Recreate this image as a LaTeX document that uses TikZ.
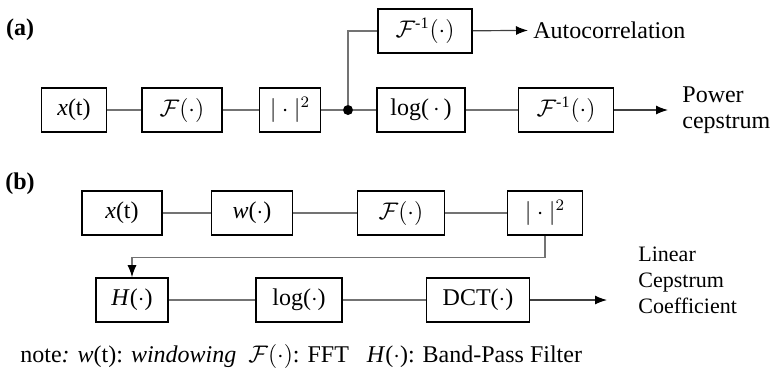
\documentclass[tikz,border=0pt]{standalone}
\usepackage{amsmath}
\usepackage{fontspec}
\setmainfont{Liberation Serif}
\usetikzlibrary{arrows.meta}

\begin{document}
\begin{tikzpicture}[x=0.5pt,y=-0.5pt]
     \tikzstyle{block}=[draw,line width=0.8pt,minimum height=22pt,inner sep=1pt,font=\fontsize{12}{14}\selectfont]
     \tikzstyle{txt}=[inner sep=0pt,font=\fontsize{12}{13}\selectfont,align=left]
     \tikzstyle{wire}=[draw,black!55,line width=0.6pt]
     \tikzstyle{arrow}=[draw,black!75,line width=0.6pt,-{Latex[length=6pt,width=4.5pt,color=black]}]
     \useasboundingbox (0,0) rectangle (771,382);

     % (a) power cepstrum
     \node[txt,font=\fontsize{12}{14}\selectfont\bfseries] (parta) at (20,30) {(a)};
     \node[block,minimum width=32.5pt] (xa) at (74,110) {\textit{x}(t)};
     \node[block,minimum width=40pt] (Fa) at (182,110) {$\mathcal{F}(\cdot)$};
     \node[block,minimum width=30.5pt] (absa) at (290,110) {$|\cdot|^2$};
     \node[circle,fill,inner sep=0pt,minimum size=5pt] (split) at (348,110) {};
     \node[block,minimum width=47pt] (inva) at (425,31) {$\mathcal{F}^{\text{-1}}(\cdot)$};
     \node[block,minimum width=44pt] (loga) at (421,110) {log(\,$\cdot$\,)};
     \node[block,minimum width=47.5pt] (invb) at (566,110) {$\mathcal{F}^{\text{-1}}(\cdot)$};
     \node[txt,anchor=west,inner xsep=2.5pt] (auto) at (528,30) {Autocorrelation};
     \node[txt,anchor=west,inner xsep=7pt] (power) at (668,110) {Power\\cepstrum};

     \draw[wire] (xa) -- (Fa);
     \draw[wire] (Fa) -- (absa);
     \draw[wire] (absa) -- (split);
     \draw[wire] (split) -- (loga);
     \draw[wire] (split) |- (inva);
     \draw[wire] (loga) -- (invb);
     \draw[arrow] (inva) -- (auto);
     \draw[arrow] (invb) -- (power);

     % (b) linear cepstrum coefficient
     \node[txt,font=\fontsize{12}{14}\selectfont\bfseries] (partb) at (20,184) {(b)};
     \node[block,minimum width=40pt] (xb) at (122,213) {\textit{x}(t)};
     \node[block,minimum width=40.5pt] (wb) at (252,213) {\textit{w}($\cdot$)};
     \node[block,minimum width=43.5pt] (Fb) at (401,213) {$\mathcal{F}(\cdot)$};
     \node[block,minimum width=37.5pt] (absb) at (545,213) {$|\cdot|^2$};
     \node[block,minimum width=36pt] (Hb) at (132,300) {\textit{H}($\cdot$)};
     \node[block,minimum width=43pt] (logb) at (299,300) {log($\cdot$)};
     \node[block,minimum width=51.5pt] (dct) at (478,300) {DCT($\cdot$)};
     \coordinate (lcc) at (607,300);
     \node[txt,anchor=west,font=\fontsize{11}{13}\selectfont] (lcctxt) at (638,280) {Linear\\Cepstrum\\Coefficient};

     \draw[wire] (xb) -- (wb);
     \draw[wire] (wb) -- (Fb);
     \draw[wire] (Fb) -- (absb);
     \draw[arrow,black!55] (absb.south) -- ++(0,22) -| (Hb.north);
     \draw[wire] (Hb) -- (logb);
     \draw[wire] (logb) -- (dct);
     \draw[arrow] (dct) -- (lcc);

     \node[txt,anchor=west,font=\fontsize{12}{13}\selectfont] (note) at (20,356)
       {note\textit{:} \textit{w}(t): \textit{windowing}\hspace{6pt}$\mathcal{F}(\cdot)$: FFT\hspace{9pt}\textit{H}($\cdot$): Band-Pass Filter};
\end{tikzpicture}
\end{document}
